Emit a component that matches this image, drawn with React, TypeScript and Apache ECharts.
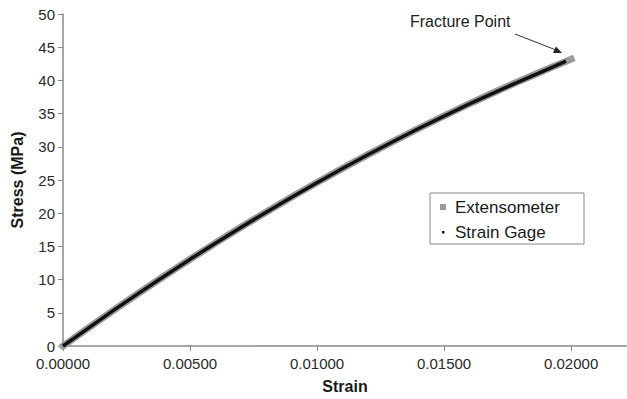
import React, { useEffect, useRef } from "react";
import * as echarts from "echarts";

const strainValues = [0, 0.001, 0.002, 0.003, 0.004, 0.005, 0.006, 0.007, 0.008, 0.009, 0.01, 0.011, 0.012, 0.013, 0.014, 0.015, 0.016, 0.017, 0.018, 0.019, 0.02];
const extensometerStress = [0, 2.73, 5.41, 8.02, 10.58, 13.07, 15.5, 17.87, 20.18, 22.43, 24.62, 26.75, 28.82, 30.83, 32.78, 34.66, 36.49, 38.26, 39.96, 41.61, 43.19];
const gageStrain = [0, 0.001, 0.002, 0.003, 0.004, 0.005, 0.006, 0.007, 0.008, 0.009, 0.01, 0.011, 0.012, 0.013, 0.014, 0.015, 0.016, 0.017, 0.018, 0.019, 0.0198];
const gageStress = [0, 2.7, 5.4, 8.0, 10.55, 13.05, 15.48, 17.85, 20.15, 22.4, 24.6, 26.72, 28.8, 30.8, 32.75, 34.63, 36.46, 38.2, 39.9, 41.55, 42.9];
const yTicks = { min: 0, max: 50, interval: 5 };
const xTicks = { min: 0, max: 0.0222, interval: 0.005 };
const seriesNames = ["Extensometer", "Strain Gage"];
const annotationText = "Fracture Point";

export default function App() {
  const ref = useRef<HTMLDivElement>(null);
  useEffect(() => {
    if (!ref.current) return;
    const chart = echarts.init(ref.current, undefined, { renderer: "svg" });
    const font = "Arial, 'Liberation Sans', sans-serif";
    chart.setOption({
      animation: false,
      backgroundColor: "#ffffff",
      grid: { left: 63, right: 0, top: 14, bottom: 49, containLabel: false },
      legend: { show: false },
      xAxis: {
        type: "value",
        min: xTicks.min,
        max: xTicks.max,
        interval: xTicks.interval,
        name: "Strain",
        nameLocation: "middle",
        nameGap: 32,
        nameTextStyle: { fontFamily: font, fontSize: 16, fontWeight: "bold", color: "#1a1a1a" },
        axisLine: { show: true, lineStyle: { color: "#888", width: 1.5 } },
        axisTick: { show: true, length: 5, lineStyle: { color: "#888" } },
        axisLabel: {
          fontFamily: font,
          fontSize: 15,
          color: "#2a2a2a",
          margin: 10,
          showMaxLabel: false,
          formatter: (v: number) => v.toFixed(5),
        },
        splitLine: { show: false },
      },
      yAxis: {
        type: "value",
        min: yTicks.min,
        max: yTicks.max,
        interval: yTicks.interval,
        name: "Stress (MPa)",
        nameLocation: "middle",
        nameGap: 38,
        nameTextStyle: { fontFamily: font, fontSize: 16, fontWeight: "bold", color: "#1a1a1a" },
        axisLine: { show: true, lineStyle: { color: "#888", width: 1.5 } },
        axisTick: { show: true, length: 5, lineStyle: { color: "#888" } },
        axisLabel: { fontFamily: font, fontSize: 15, color: "#2a2a2a", margin: 8 },
        splitLine: { show: false },
      },
      series: [
        {
          name: seriesNames[0],
          type: "line",
          data: strainValues.map((x, i) => [x, extensometerStress[i]]),
          showSymbol: false,
          symbol: "none",
          color: "#999",
          lineStyle: { color: "#9a9a9a", width: 7, cap: "square" },
        },
        {
          name: seriesNames[1],
          type: "line",
          data: gageStrain.map((x, i) => [x, gageStress[i]]),
          showSymbol: false,
          symbol: "none",
          color: "#111",
          lineStyle: { color: "#111", width: 3.5 },
        },
      ],
      graphic: [
        {
          type: "text",
          left: 410,
          top: 13,
          style: { text: annotationText, fontFamily: font, fontSize: 16, fill: "#222" },
        },
        {
          type: "line",
          shape: { x1: 515, y1: 34, x2: 556, y2: 50 },
          style: { stroke: "#333", lineWidth: 1 },
        },
        {
          type: "polygon",
          shape: { points: [[562, 53], [553, 53], [556, 46.5]] },
          style: { fill: "#222" },
        },
        {
          type: "rect",
          shape: { x: 430, y: 193, width: 154, height: 51 },
          style: { fill: "#fff", stroke: "#888", lineWidth: 1 },
        },
        {
          type: "rect",
          shape: { x: 440, y: 204, width: 6, height: 6 },
          style: { fill: "#999" },
        },
        {
          type: "rect",
          shape: { x: 442, y: 231, width: 2.5, height: 2.5 },
          style: { fill: "#111" },
        },
        {
          type: "text",
          x: 455,
          y: 207,
          style: { text: seriesNames[0], fontFamily: font, fontSize: 17, fill: "#1a1a1a", verticalAlign: "middle" },
        },
        {
          type: "text",
          x: 455,
          y: 232,
          style: { text: seriesNames[1], fontFamily: font, fontSize: 17, fill: "#1a1a1a", verticalAlign: "middle" },
        },
      ],
    });
    return () => chart.dispose();
  }, []);
  return <div ref={ref} style={{ position: "absolute", left: 0, top: 0, width: 627, height: 399 }} />;
}
